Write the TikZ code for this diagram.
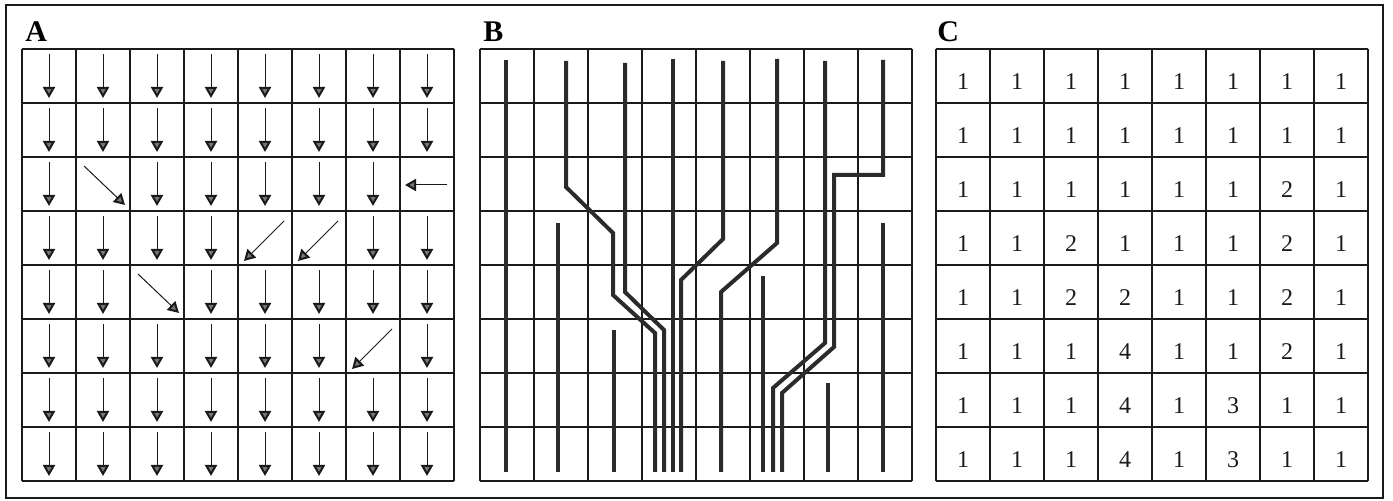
\documentclass[tikz,border=0pt]{standalone}
\usepackage{fontspec}
\setmainfont{Liberation Serif}
\usetikzlibrary{arrows.meta}
\definecolor{inkdark}{HTML}{1A1A1A}
\definecolor{routegray}{HTML}{2B2B2B}
\definecolor{headgray}{HTML}{777777}
\tikzset{
  outerbox/.style={draw=inkdark, line width=1.4pt},
  cellgrid/.style={draw=inkdark, line width=0.6pt},
  % flow direction arrows (panel A)
  dirarr/.style={-{Triangle[length=5.5pt,width=6pt,line width=1pt,fill=headgray]},
    line width=0.5pt, color=inkdark},
  % drainage routes (panel B)
  route/.style={line width=2pt, color=routegray},
  panlab/.style={font=\fontsize{15}{18}\selectfont\bfseries, anchor=base west, inner sep=0pt},
  cnum/.style={font=\fontsize{12}{14}\selectfont, inner sep=0pt, text=inkdark},
}
\begin{document}
\begin{tikzpicture}[x=0.5pt,y=-0.5pt]
  \useasboundingbox (0,0) rectangle (1393,501);
  \draw[outerbox] (6,5) rectangle (1383,498);
  % panel letters
  \node[panlab] (labA) at (25,42) {A};
  \node[panlab] (labB) at (483,42) {B};
  \node[panlab] (labC) at (937,42) {C};
  % A: flow direction per cell
  \begin{scope}[shift={(22,49)}]
    \foreach \i in {0,...,8} {
      \draw[cellgrid] (\i*54,0) -- (\i*54,432);
      \draw[cellgrid] (0,\i*54) -- (432,\i*54);
    }
    \foreach \cols [count=\r from 0] in {{0,1,2,3,4,5,6,7},{0,1,2,3,4,5,6,7},{0,2,3,4,5,6},
        {0,1,2,3,6,7},{0,1,3,4,5,6,7},{0,1,2,3,4,5,7},{0,1,2,3,4,5,6,7},{0,1,2,3,4,5,6,7}} {
      \foreach \c in \cols {
        \draw[dirarr] (\c*54+27,\r*54+5) -- (\c*54+27,\r*54+49);
      }
    }
    % the odd ones
    \draw[dirarr] (54+8,108+9) -- (54+49,108+48);
    \draw[dirarr] (378+47,108+28) -- (378+5,108+28);
    \draw[dirarr] (216+46,162+10) -- (216+6,162+50);
    \draw[dirarr] (270+46,162+10) -- (270+6,162+50);
    \draw[dirarr] (108+8,216+9) -- (108+49,216+48);
    \draw[dirarr] (324+46,270+10) -- (324+6,270+50);
  \end{scope}
  % B: routes down the grid
  \begin{scope}[shift={(480,49)}]
    \foreach \i in {0,...,8} {
      \draw[cellgrid] (\i*54,0) -- (\i*54,432);
      \draw[cellgrid] (0,\i*54) -- (432,\i*54);
    }
    \draw[route] (26,11) -- (26,423);
    \draw[route] (86,12) -- (86,138) -- (133,184) -- (133,246) -- (175,284) -- (175,423);
    \draw[route] (145,14) -- (145,243) -- (184,281) -- (184,423);
    \draw[route] (193,10) -- (193,423);
    \draw[route] (243,12) -- (243,190) -- (201,231) -- (201,423);
    \draw[route] (297,10) -- (297,194) -- (241,243) -- (241,423);
    \draw[route] (345,12) -- (345,294) -- (293,339) -- (293,423);
    \draw[route] (403,11) -- (403,126) -- (354,126) -- (354,298) -- (302,344) -- (302,423);
    \foreach \x/\y in {78/174, 134/281, 283/227, 348/334, 403/174} {
      \draw[route] (\x,\y) -- (\x,423);
    }
  \end{scope}
  % C: counts
  \begin{scope}[shift={(936,49)}]
    \foreach \i in {0,...,8} {
      \draw[cellgrid] (\i*54,0) -- (\i*54,432);
      \draw[cellgrid] (0,\i*54) -- (432,\i*54);
    }
    \foreach \row [count=\r from 0] in {{1,1,1,1,1,1,1,1},{1,1,1,1,1,1,1,1},
        {1,1,1,1,1,1,2,1},{1,1,2,1,1,1,2,1},{1,1,2,2,1,1,2,1},
        {1,1,1,4,1,1,2,1},{1,1,1,4,1,3,1,1},{1,1,1,4,1,3,1,1}} {
      \foreach \v [count=\c from 0] in \row {
        \node[cnum] (n\r\c) at (\c*54+27,\r*54+33) {\v};
      }
    }
  \end{scope}
\end{tikzpicture}
\end{document}
